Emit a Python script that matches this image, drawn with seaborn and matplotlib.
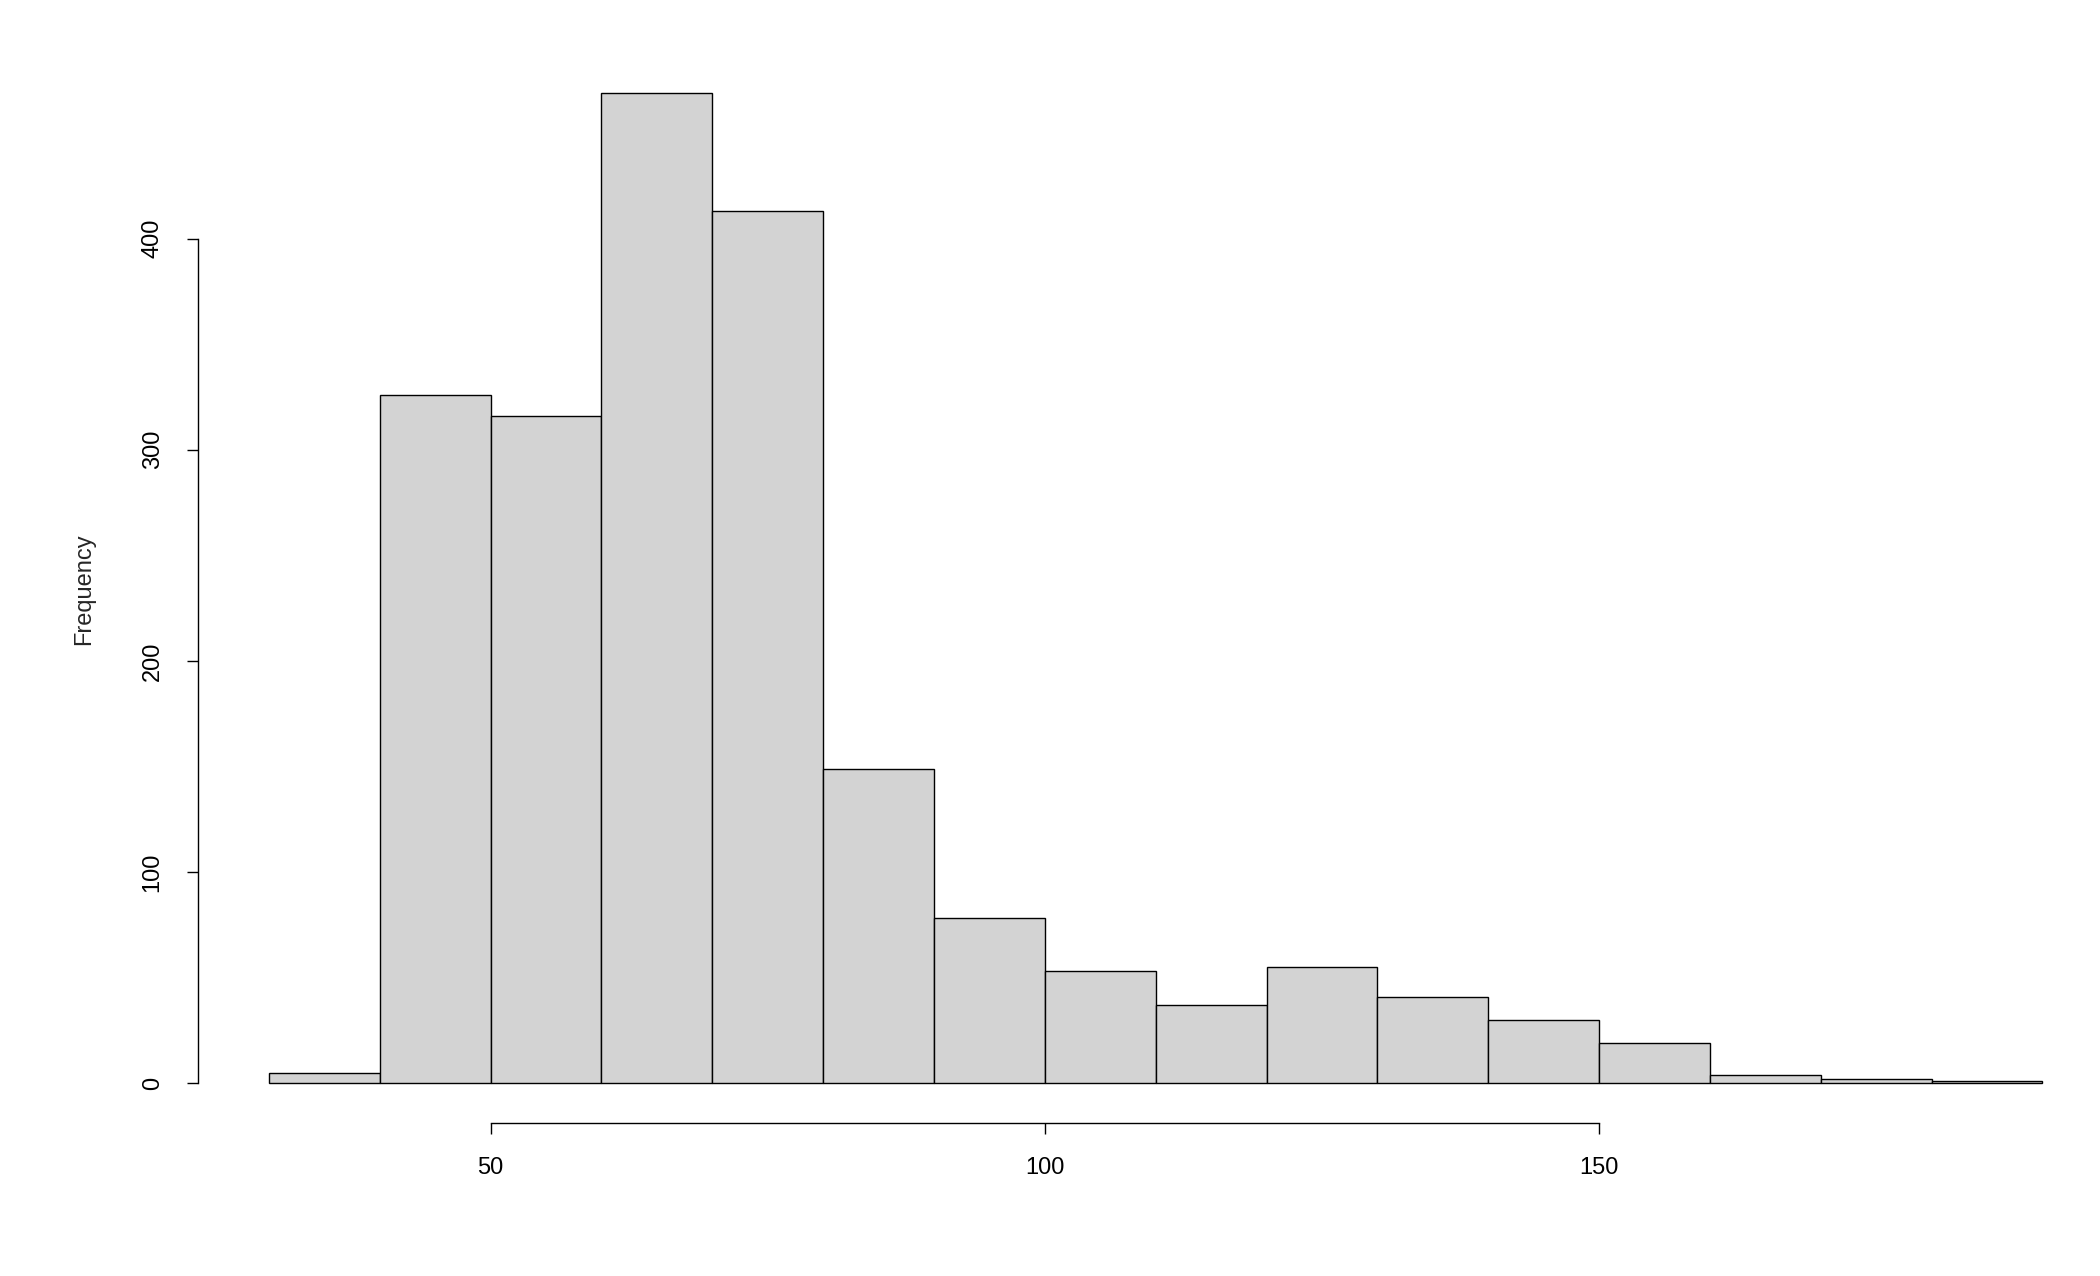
"""
Histogram in the style of R's base hist(): grey bars, offset axes, no box.
"""

import numpy as np
import matplotlib
matplotlib.use("Agg")
import matplotlib.pyplot as plt
import seaborn as sns

# ==========================================
# Data
# ==========================================
bin_edges = [30, 40, 50, 60, 70, 80, 90, 100, 110, 120, 130, 140, 150, 160, 170, 180, 190]
counts = [5, 326, 316, 469, 413, 149, 78, 53, 37, 55, 41, 30, 19, 4, 2, 1]
x_ticks = [50, 100, 150]
y_ticks = [0, 100, 200, 300, 400]
y_label = "Frequency"

# ==========================================
# Layout
# ==========================================
FIG_W, FIG_H, DPI = 21, 12.76, 100
FONT = ["Liberation Sans", "DejaVu Sans"]
Y_RANGE = (-18.84, 489.84)


def main():
    sns.set_style("white")
    plt.rcParams["font.family"] = FONT

    fig = plt.figure(figsize=(FIG_W, FIG_H), dpi=DPI)
    ax = fig.add_axes([0.0943, 0.12, 0.9057, 0.8416])

    mids = np.array(bin_edges[:-1]) + np.diff(bin_edges) / 2
    sns.histplot(x=mids, weights=counts, bins=bin_edges, ax=ax,
                 color="#D3D3D3", edgecolor="black", linewidth=1.0, alpha=1.0)

    ax.set_xlim(23.6, 195.2)
    ax.set_ylim(*Y_RANGE)

    ax.set_xticks(x_ticks)
    ax.set_yticks(y_ticks)
    ax.set_xticklabels([str(t) for t in x_ticks])
    ax.set_yticklabels([str(t) for t in y_ticks], rotation=90, va="center")

    for side in ["top", "right"]:
        ax.spines[side].set_visible(False)
    ax.spines["left"].set_bounds(y_ticks[0], y_ticks[-1])
    ax.spines["bottom"].set_bounds(x_ticks[0], x_ticks[-1])
    for side in ["left", "bottom"]:
        ax.spines[side].set_color("black")
        ax.spines[side].set_linewidth(1.0)

    ax.tick_params(axis="both", direction="out", length=7.7, width=1.0,
                   colors="black", labelsize=17, left=True, bottom=True)
    ax.tick_params(axis="x", pad=17)
    ax.tick_params(axis="y", pad=17)

    ax.set_xlabel("")
    ax.set_ylabel(y_label, fontsize=17)
    ax.yaxis.set_label_coords(0.0452, 0.538, transform=fig.transFigure)

    fig.savefig("out.png", dpi=DPI, facecolor="white")


if __name__ == "__main__":
    main()
